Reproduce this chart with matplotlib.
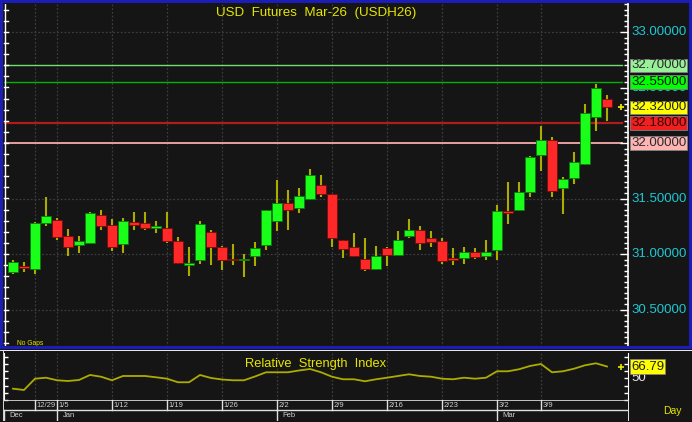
import matplotlib
matplotlib.use("Agg")
import matplotlib.pyplot as plt
import numpy as np
from matplotlib.patches import Rectangle
from matplotlib.ticker import MultipleLocator, NullFormatter
import matplotlib.transforms as mtransforms

# ---------------- data ----------------
opens = [30.835, 30.89, 30.868, 31.282, 31.306, 31.165, 31.084, 31.102, 31.354, 31.261,
         31.093, 31.291, 31.276, 31.237, 31.237, 31.12, 30.901, 30.946, 31.201, 31.066,
         30.955, 30.946, 30.985, 31.081, 31.30, 31.456, 31.417, 31.50, 31.622, 31.541,
         31.126, 31.06, 30.955, 30.862, 31.054, 30.99, 31.165, 31.216, 31.141, 31.117,
         30.967, 30.961, 31.021, 30.982, 31.036, 31.39, 31.394, 31.561, 31.892, 32.027,
         31.592, 31.687, 31.81, 32.237, 32.40]
highs = [30.946, 30.93, 31.29, 31.51, 31.327, 31.225, 31.162, 31.381, 31.40, 31.313,
         31.327, 31.376, 31.376, 31.30, 31.376, 31.15, 31.066, 31.30, 31.216, 31.07,
         31.09, 31.0, 31.11, 31.40, 31.667, 31.577, 31.592, 31.766, 31.712, 31.545,
         31.13, 31.192, 31.141, 31.072, 31.06, 31.207, 31.313, 31.25, 31.21, 31.147,
         31.057, 31.066, 31.05, 31.126, 31.44, 31.651, 31.651, 31.88, 32.153, 32.057,
         31.696, 31.916, 32.351, 32.532, 32.432]
lows = [30.82, 30.84, 30.82, 31.25, 31.13, 30.98, 31.006, 31.096, 31.216, 31.03,
        31.006, 31.216, 31.216, 31.186, 31.096, 30.907, 30.80, 30.91, 30.90, 30.86,
        30.898, 30.79, 30.89, 31.04, 31.21, 31.216, 31.367, 31.486, 31.516, 31.06,
        30.96, 30.97, 30.85, 30.856, 30.89, 30.99, 31.14, 31.036, 31.066, 30.91,
        30.90, 30.91, 30.955, 30.946, 30.946, 31.268, 31.39, 31.516, 31.75, 31.516,
        31.36, 31.63, 31.80, 32.11, 32.20]
closes = [30.925, 30.87, 31.277, 31.342, 31.15, 31.06, 31.117, 31.372, 31.252, 31.06,
          31.30, 31.261, 31.237, 31.25, 31.12, 30.922, 30.916, 31.268, 31.06, 30.946,
          30.943, 30.948, 31.057, 31.396, 31.456, 31.40, 31.525, 31.712, 31.538, 31.141,
          31.042, 30.985, 30.862, 30.985, 30.994, 31.126, 31.216, 31.10, 31.111, 30.937,
          30.943, 31.021, 30.97, 31.018, 31.39, 31.37, 31.559, 31.877, 32.027, 31.57,
          31.676, 31.826, 32.268, 32.493, 32.32]
rsi_values = [35.7, 33.9, 49.7, 51.1, 47.5, 46.5, 47.9, 54.9, 52.5, 47.5,
              53.5, 53.5, 53.5, 51.7, 49.7, 44.7, 44.7, 54.9, 50.7, 48.6,
              47.5, 47.5, 52.8, 58.7, 58.7, 58.7, 61.2, 63.3, 58.7, 52.5,
              48.9, 48.9, 46.1, 48.9, 51.1, 53.5, 55.9, 53.5, 52.5, 49.7,
              48.9, 51.1, 49.7, 51.1, 60.1, 60.1, 62.9, 67.5, 70.3, 58.7,
              60.1, 63.7, 68.5, 71.3, 66.79]

week_labels = ['12/29', '1/5', '1/12', '1/19', '1/26', '2/2', '2/9', '2/16', '2/23', '3/2', '3/9']
week_start_idx = [2, 4, 9, 14, 19, 24, 29, 34, 39, 44, 48]
month_labels = ['Dec', 'Jan', 'Feb', 'Mar']
month_start_idx = [-0.8, 4, 24, 44]

price_axis_ticks = [33.0, 32.5, 31.5, 31.0, 30.5]
level_values = [32.70, 32.55, 32.18, 32.00]
last_price = 32.32
last_rsi = 66.79

title = "USD  Futures  Mar-26  (USDH26)"
rsi_title = "Relative  Strength  Index"

# ---------------- styling ----------------
W, H = 692, 422
BG = '#151515'
BLUE = '#1c1cb8'
WICK = '#acac00'
GREEN = '#19ff19'
RED = '#ff2828'
CYAN = '#1ec8d2'
YEL = '#e6e600'
GRID = '#3c3c3c'

plt.rcParams['font.family'] = ['Liberation Sans', 'DejaVu Sans']

fig = plt.figure(figsize=(W / 100, H / 100), dpi=100, facecolor=BG)


def fbox(x0, y0, x1, y1):
    return [x0 / W, 1 - y1 / H, (x1 - x0) / W, (y1 - y0) / H]


n = len(opens)
idx = np.arange(n)
XL = (-9 / 11, 615 / 11)

# ---- main price axes ----
ax = fig.add_axes(fbox(4, 4, 628, 347), facecolor=BG)
ax.set_xlim(*XL)
ax.set_ylim(33 - 315 / 111, 33 + 28 / 111)

for s in ['top', 'bottom', 'left']:
    ax.spines[s].set_visible(False)
ax.spines['right'].set_color('white')
ax.spines['right'].set_linewidth(1.2)
ax.yaxis.tick_right()
ax.yaxis.set_major_locator(MultipleLocator(0.5))
ax.yaxis.set_minor_locator(MultipleLocator(0.05))
ax.yaxis.set_major_formatter(NullFormatter())
ax.tick_params(axis='y', which='major', direction='in', length=6, color='white', width=1)
ax.tick_params(axis='y', which='minor', direction='in', length=3, color='white', width=1)
ax.set_xticks([])

# left edge ticks
trl = mtransforms.blended_transform_factory(ax.transAxes, ax.transData)
for v in np.arange(30.2, 33.25, 0.1):
    ax.plot([0, 4 / 624], [v, v], color='white', lw=1, transform=trl, clip_on=False)
ax.plot([0.0015, 0.0015], [0, 1], color='white', lw=1, transform=ax.transAxes)

# gridlines
for i in week_start_idx:
    ax.axvline(i, color=GRID, lw=0.9, ls=(0, (1.5, 1.5)), zorder=0)
for v in [33.0, 31.5, 31.0, 30.5]:
    ax.axhline(v, color=GRID, lw=0.9, ls=(0, (1.5, 1.5)), zorder=0)

# level lines
level_colors = ['#70e070', '#00b400', '#b01c1c', '#e4a0a0']
level_lw = [1.0, 1.0, 1.6, 1.4]
for v, c, lw in zip(level_values, level_colors, level_lw):
    ax.axhline(v, xmin=0, xmax=(622 - 4) / 624, color=c, lw=lw, zorder=1)

# candles
o = np.array(opens); h = np.array(highs); l = np.array(lows); c = np.array(closes)
up = c >= o
ax.vlines(idx, l, h, color=WICK, lw=1.5, zorder=2)
body_lo = np.minimum(o, c)
body_h = np.maximum(np.abs(c - o), 0.012)
ax.bar(idx, body_h, bottom=body_lo, width=0.88,
       color=np.where(up, GREEN, RED), edgecolor=np.where(up, '#0a7a0a', '#7a0a0a'),
       linewidth=0.6, zorder=3)

# last price marker
ax.plot([n - 1 + 1.25], [last_price], marker='+', color=YEL, ms=5, mew=1.3, zorder=4, clip_on=False)

ax.text(14 / 624 - 0.002, 30.162 + 4 / 111, 'No Gaps', transform=trl, color=YEL,
        fontsize=4.8, ha='left', va='center')
ax.text(0.5, 33.252 - 8.5 / 111, title, transform=trl, color=YEL, fontsize=9.6,
        ha='center', va='center')

# right price labels
lx = (631 - 4) / 624
for v in price_axis_ticks:
    ax.text(lx, v, f'{v:.5f}', transform=trl, color=CYAN, fontsize=9.5,
            ha='left', va='center', clip_on=False, zorder=5)

box_specs = [(32.70, '#98f098', '#2a2a2a'), (32.55, '#00ff00', '#101010'),
             (last_price, '#ffff00', '#202020'), (32.18, '#f02020', '#3a0000'),
             (32.00, '#ffb4b4', '#2a2a2a')]
for v, fc, tc in box_specs:
    ax.text(lx, v, f'{v:.5f}', transform=trl, color=tc, fontsize=9.5,
            ha='left', va='center', clip_on=False, zorder=6,
            bbox=dict(boxstyle='square,pad=0.05', fc=fc, ec='#808080', lw=0.6))

# ---- RSI axes ----
rax = fig.add_axes(fbox(4, 353, 628, 400), facecolor=BG)
rax.set_xlim(*XL)
rlo = last_rsi - 33.5 / 0.714
rhi = last_rsi + 13.5 / 0.714
rax.set_ylim(rlo, rhi)
for s in ['top', 'bottom']:
    rax.spines[s].set_visible(False)
rax.spines['right'].set_color('white')
rax.spines['left'].set_color('white')
rax.set_xticks([])
rax.yaxis.set_ticks_position('both')
rax.yaxis.set_major_locator(MultipleLocator(10))
rax.yaxis.set_major_formatter(NullFormatter())
rax.tick_params(axis='y', which='major', direction='in', length=3, color='white', width=1)
for i in week_start_idx:
    rax.axvline(i, color=GRID, lw=0.9, ls=(0, (1.5, 1.5)), zorder=0)
rax.plot(idx, rsi_values, color='#acac00', lw=1.3, zorder=2)
rax.plot([n - 1 + 1.25], [last_rsi], marker='+', color=YEL, ms=4, mew=1.2, clip_on=False)
rtr = mtransforms.blended_transform_factory(rax.transAxes, rax.transData)
rax.text(0.5, rhi - 10.5 / 0.714, rsi_title, transform=rtr, color=YEL, fontsize=9.3,
         ha='center', va='center')
rax.text(lx, 50, '50', transform=rtr, color='#e8e8e8', fontsize=9.5, ha='left', va='center',
         clip_on=False)
rax.text(lx, last_rsi, f'{last_rsi:.2f}', transform=rtr, color='#202020', fontsize=9.5,
         ha='left', va='center', clip_on=False,
         bbox=dict(boxstyle='square,pad=0.1', fc='#ffff00', ec='#808080', lw=0.5))

# ---- date axis ----
dax = fig.add_axes(fbox(4, 400, 628, 421), facecolor=BG)
dax.set_xlim(*XL)
dax.set_ylim(0, 1)
dax.axis('off')
mid = 11 / 21
dax.axhline(1, color='#e0e0e0', lw=1.2)
dax.axhline(mid, color='#e0e0e0', lw=1.0)
for i, lab in zip(week_start_idx, week_labels):
    dax.plot([i, i], [mid, 1], color='#e0e0e0', lw=1.0)
    dax.text(i + 0.15, (1 + mid) / 2 - 0.04, lab, color='#cfcfcf', fontsize=5.5,
             ha='left', va='center')
for i, lab in zip(month_start_idx, month_labels):
    dax.plot([i, i], [0, mid], color='#e0e0e0', lw=1.0)
    dax.text(i + 0.5, mid / 2 - 0.02, lab, color='#cfcfcf', fontsize=5.5,
             ha='left', va='center')

# ---- frame / decorations (figure-level) ----
def frect(x0, y0, x1, y1, color):
    fig.add_artist(Rectangle((x0 / W, 1 - y1 / H), (x1 - x0) / W, (y1 - y0) / H,
                             transform=fig.transFigure, facecolor=color, edgecolor='none', zorder=10))

frect(0, 0, W, 3, BLUE)
frect(0, 0, 3, 348, BLUE)
frect(689, 0, W, 348, BLUE)
frect(0, 346, W, 348.5, BLUE)
frect(0, 349.5, W, 351, '#e8e8e8')
frect(627.5, 400, 629, 421, '#e0e0e0')
frect(3, 351, 4.5, 421, '#d0d0d0')

fig.text(672 / W, 1 - 411 / H, 'Day', color=YEL, fontsize=7.5, ha='center', va='center')

fig.savefig('out.png', dpi=100, facecolor=BG)
